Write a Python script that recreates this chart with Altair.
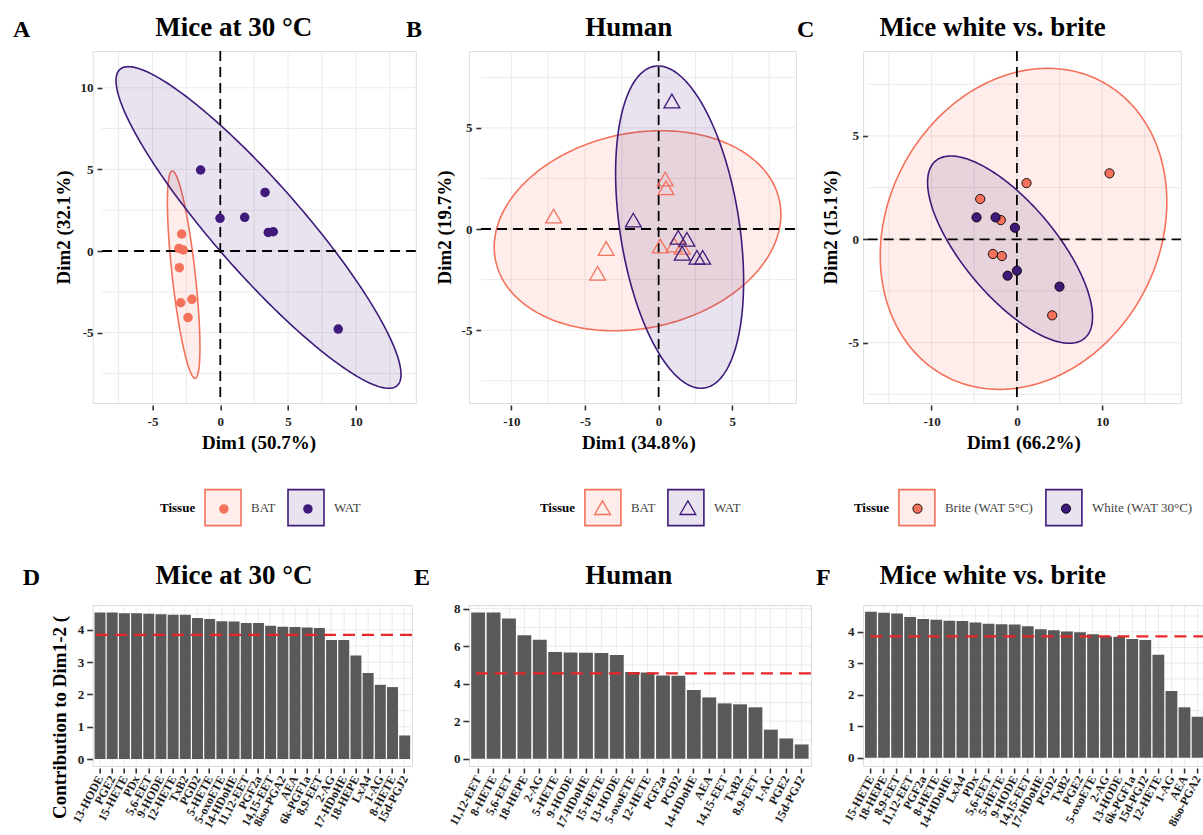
import altair as alt
import numpy as np
import pandas as pd

FONT = "Liberation Serif"
SALMON = "#F4725C"
PURPLE = "#3F1A7A"
SALMON_TINT = "rgba(244,114,92,0.13)"
PURPLE_TINT = "rgba(63,26,122,0.12)"
GRID = "#EBEBEB"
BAR = "#595959"
RED = "#E8262A"

# ---------------- Panel A : Mice at 30 °C (PCA scores) ----------------
A_GROUPS = ["BAT", "WAT"]
A_BAT_X = [-2.85, -3.05, -2.73, -3.02, -2.92, -2.09, -2.38]
A_BAT_Y = [1.04, 0.16, 0.06, -1.02, -3.17, -2.96, -4.08]
A_WAT_X = [-1.45, 3.30, -0.02, 1.80, 3.54, 3.91, 8.70]
A_WAT_Y = [4.96, 3.59, 2.00, 2.06, 1.14, 1.18, -4.78]
# ellipse outlines: xmin, xmax, ymin, ymax, x at the top point
A_ELL_BAT = [-3.90, -1.50, -7.80, 4.90, -3.54]
A_ELL_WAT = [-7.69, 13.33, -8.41, 11.29, -6.78]

# ---------------- Panel B : Human ----------------
B_GROUPS = ["BAT", "WAT"]
B_BAT_X = [-7.13, -3.56, -4.14, 0.45, 0.50, 0.11, 1.06, 1.60]
B_BAT_Y = [0.64, -0.96, -2.19, 2.47, 2.04, -0.84, -0.79, -0.90]
B_WAT_X = [0.90, -1.72, 1.33, 1.92, 1.60, 2.60, 2.99]
B_WAT_Y = [6.33, 0.44, -0.41, -0.51, -1.20, -1.40, -1.40]
B_ELL_BAT = [-11.16, 8.30, -5.03, 4.86, 0.16]
B_ELL_WAT = [-2.92, 5.77, -7.87, 8.06, -0.03]

# ---------------- Panel C : Mice white vs. brite ----------------
C_GROUPS = ["Brite (WAT 5°C)", "White (WAT 30°C)"]
C_BRITE_X = [10.86, 1.13, -4.30, -1.88, -2.81, -1.76, 4.14]
C_BRITE_Y = [3.19, 2.72, 1.95, 0.93, -0.71, -0.81, -3.68]
C_WHITE_X = [-4.73, -2.50, -0.23, 0.00, -1.09, 5.00]
C_WHITE_Y = [1.06, 1.06, 0.56, -1.52, -1.76, -2.29]
C_ELL_BRITE = [-16.02, 17.58, -7.26, 8.27, 3.60]
C_ELL_WHITE = [-10.47, 8.87, -5.03, 4.03, -7.74]

# ---------------- Panel D : contributions, mice at 30 °C ----------------
D_NAMES = ["13-HODE", "PGE2", "15-HETE", "PDx", "5,6-EET", "9-HODE", "12-HETE", "TxB2",
           "PGD2", "5-HETE", "5-oxoETE", "14-HDoHE", "11,12-EET", "PGF2a", "14,15-EET",
           "8iso-PGA2", "AEA", "6k-PGF1a", "8,9-EET", "2-AG", "17-HDoHE", "18-HEPE",
           "LxA4", "1-AG", "8-HETE", "15d-PGJ2"]
D_VALUES = [4.54, 4.54, 4.52, 4.52, 4.50, 4.49, 4.47, 4.47, 4.37, 4.34, 4.27, 4.26, 4.22,
            4.22, 4.13, 4.10, 4.09, 4.08, 4.06, 3.69, 3.69, 3.21, 2.67, 2.30, 2.23, 0.73]
D_REF = 3.85

# ---------------- Panel E : contributions, human ----------------
E_NAMES = ["11,12-EET", "8-HETE", "5,6-EET", "18-HEPE", "2-AG", "5-HETE", "9-HODE",
           "17-HDoHE", "15-HETE", "13-HODE", "5-oxoETE", "12-HETE", "PGF2a", "PGD2",
           "14-HDoHE", "AEA", "14,15-EET", "TxB2", "8,9-EET", "1-AG", "PGE2", "15d-PGJ2"]
E_VALUES = [7.80, 7.80, 7.48, 6.58, 6.35, 5.69, 5.67, 5.65, 5.64, 5.53, 4.62, 4.60, 4.44,
            4.43, 3.66, 3.27, 2.95, 2.90, 2.74, 1.55, 1.08, 0.76]
E_REF = 4.55

# ---------------- Panel F : contributions, mice white vs. brite ----------------
F_NAMES = ["15-HETE", "18-HEPE", "8,9-EET", "11,12-EET", "PGF2a", "8-HETE", "14-HDoHE",
           "LxA4", "PDx", "5,6-EET", "5-HETE", "9-HODE", "14,15-EET", "17-HDoHE", "PGD2",
           "TxB2", "PGE2", "5-oxoETE", "2-AG", "13-HODE", "6k-PGF1a", "15d-PGJ2",
           "12-HETE", "1-AG", "AEA", "8iso-PGA2"]
F_VALUES = [4.63, 4.60, 4.58, 4.47, 4.40, 4.38, 4.35, 4.34, 4.29, 4.25, 4.24, 4.23, 4.17,
            4.08, 4.05, 4.01, 3.98, 3.92, 3.85, 3.84, 3.77, 3.74, 3.27, 2.12, 1.60, 1.30]
F_REF = 3.85


def ellipse_frame(name, box, n=180):
    xmin, xmax, ymin, ymax, xtop = box
    cx, rx = (xmin + xmax) / 2, (xmax - xmin) / 2
    cy, ry = (ymin + ymax) / 2, (ymax - ymin) / 2
    phi = np.arccos(np.clip((xtop - cx) / rx, -1, 1))
    t = np.linspace(0, np.pi, n)
    return pd.DataFrame({"Tissue": name, "x": cx + rx * np.cos(t),
                         "y": cy + ry * np.cos(t - phi), "y2": cy + ry * np.cos(t + phi)})


def points_frame(groups, xs_list, ys_list):
    frames = [pd.DataFrame({"Tissue": g, "x": xs, "y": ys})
              for g, xs, ys in zip(groups, xs_list, ys_list)]
    return pd.concat(frames, ignore_index=True)


def letter_layer(letter, lx, ly):
    return alt.Chart(pd.DataFrame({"t": [letter]})).mark_text(
        align="left", baseline="alphabetic", font=FONT, fontSize=24,
        fontWeight="bold", color="black").encode(
        text="t:N", x=alt.value(lx), y=alt.value(ly))


def panel_title(text, dx, dy):
    return alt.Title(text=text, font=FONT, fontSize=27, fontWeight="bold", color="black",
                     anchor="middle", frame="group", offset=0, dx=dx, dy=dy)


LEG_TITLE_W = 35.4 + 8   # width of the bold "Tissue" legend title plus its padding


def scatter_panel(pts, ells, groups, cfg):
    xs = alt.Scale(domain=cfg["xdom"], nice=False, zero=False)
    ys = alt.Scale(domain=cfg["ydom"], nice=False, zero=False)
    xmax = cfg["xdom"][1]
    common = dict(domain=False, grid=False, ticks=True, tickColor="#333333", tickWidth=1.6,
                  labelFont=FONT, labelFontSize=13, labelFontWeight="bold", labelColor="#1E1E1E",
                  labelExpr="'' + datum.value", titleFont=FONT, titleFontSize=19,
                  titleFontWeight="bold", titleColor="black")
    xaxis = alt.Axis(values=cfg["xticks"], title=cfg["xtitle"], tickSize=5, offset=2,
                     labelPadding=5, titlePadding=5, titleX=cfg["xtitle_x"], **common)
    yaxis = alt.Axis(values=cfg["yticks"], title=cfg["ytitle"], tickSize=5, offset=cfg["yoff"],
                     labelPadding=4, titlePadding=7, **common)
    gv = alt.Chart(pd.DataFrame({"v": cfg["gx"]})).mark_rule(color=GRID, strokeWidth=1).encode(
        x=alt.X("v:Q", scale=xs, axis=xaxis))
    gh = alt.Chart(pd.DataFrame({"v": cfg["gy"]})).mark_rule(color=GRID, strokeWidth=1).encode(
        y=alt.Y("v:Q", scale=ys, axis=yaxis),
        x=alt.X(datum=cfg["xleft"], scale=xs, axis=xaxis), x2=alt.X2(datum=xmax))
    leg1 = dict(orient="none", legendX=cfg["lx"], legendY=cfg["ly"], direction="horizontal",
                title="Tissue", titleOrient="left", titleFont=FONT, titleFontSize=13,
                titleFontWeight="bold", titleColor="black", titlePadding=8,
                titleAnchor="middle", titleBaseline="middle",
                symbolType="square", symbolSize=1296, symbolStrokeWidth=1.6,
                labelFont=FONT, labelFontSize=13, labelColor="#444444", labelOffset=9,
                columnPadding=8, padding=0)
    tints = [SALMON_TINT, PURPLE_TINT]
    el = alt.Chart(ells).mark_area(strokeWidth=1.6).encode(
        x=alt.X("x:Q", scale=xs, axis=xaxis),
        y=alt.Y("y:Q", scale=ys, axis=yaxis), y2="y2:Q",
        fill=alt.Fill("Tissue:N", scale=alt.Scale(range=tints), legend=alt.Legend(**leg1)),
        stroke=alt.Stroke("Tissue:N", scale=alt.Scale(range=[SALMON, PURPLE]), legend=alt.Legend(**leg1)))
    zv = alt.Chart(pd.DataFrame({"v": [0]})).mark_rule(
        color="black", strokeDash=[10, 6], strokeWidth=1.8).encode(x=alt.X("v:Q", scale=xs, axis=xaxis))
    zh = alt.Chart(pd.DataFrame({"v": [0]})).mark_rule(
        color="black", strokeDash=[10, 6], strokeWidth=1.8).encode(
        y=alt.Y("v:Q", scale=ys, axis=yaxis),
        x=alt.X(datum=cfg["xleft"], scale=xs, axis=xaxis), x2=alt.X2(datum=xmax))
    l2 = cfg["l2"]
    # second legend: only the point glyphs, drawn in the middle of the boxes of the first one
    leg2 = alt.Legend(orient="none", legendX=cfg["lx"] + LEG_TITLE_W + l2["d"],
                      legendY=cfg["ly"] + l2["d"], direction="horizontal", title=None,
                      symbolType=l2["shape"], symbolSize=l2["size"], symbolStrokeWidth=l2["sw"],
                      labelExpr="''", labelOffset=0, labelFontSize=13,
                      columnPadding=2 * l2["d"] + 9 + l2["lw"] + 8, padding=0,
                      **l2.get("extra", {}))
    pt = alt.Chart(pts).mark_point(**cfg["mark"]).encode(
        x=alt.X("x:Q", scale=xs, axis=xaxis),
        y=alt.Y("y:Q", scale=ys, axis=yaxis),
        color=alt.Color("Tissue:N", scale=alt.Scale(domain=groups, range=[SALMON, PURPLE]), legend=leg2))
    lt = letter_layer(cfg["letter"], cfg["letter_x"], cfg["letter_y"])
    return alt.layer(gv, gh, el, zv, zh, pt, lt).properties(
        width=cfg["w"], height=352, title=panel_title(cfg["title"], cfg["tdx"], cfg["tdy"]))


def bar_panel(names, values, ref, cfg):
    df = pd.DataFrame({"name": names, "value": values})
    xs = alt.Scale(paddingInner=0.1, paddingOuter=0.15)
    ys = alt.Scale(domain=cfg["ydom"], nice=False, zero=False)
    xaxis = alt.Axis(title=None, labelAngle=-62, labelAlign="right", labelBaseline="middle",
                     labelFont=FONT, labelFontSize=12, labelFontWeight="bold", labelColor="#1E1E1E",
                     labelPadding=3, labelOverlap=False, labelLimit=300, tickSize=5, tickWidth=1.6,
                     tickColor="#333333", domain=False, grid=True, gridColor=GRID, gridWidth=1,
                     bandPosition=0.5, offset=2)
    yargs = dict(values=cfg["yticks"], domain=False, grid=False, tickSize=6, tickWidth=1.6,
                 tickColor="#333333", labelFont=FONT, labelFontSize=13, labelFontWeight="bold",
                 labelColor="#1E1E1E", labelPadding=3)
    if cfg.get("ytitle"):
        yaxis = alt.Axis(title=cfg["ytitle"], titleFont=FONT, titleFontSize=19, titleFontWeight="bold",
                         titleColor="black", titlePadding=8, titleY=112, **yargs)
    else:
        yaxis = alt.Axis(title=None, **yargs)
    gh = alt.Chart(pd.DataFrame({"v": cfg["gy"]})).mark_rule(color=GRID, strokeWidth=1).encode(
        y=alt.Y("v:Q", scale=ys, axis=yaxis))
    bars = alt.Chart(df).mark_bar(color=BAR).encode(
        x=alt.X("name:N", sort=names, scale=xs, axis=xaxis),
        y=alt.Y("value:Q", scale=ys, axis=yaxis))
    rl = alt.Chart(pd.DataFrame({"v": [ref]})).mark_rule(
        color=RED, strokeDash=[12, 7], strokeWidth=2.3).encode(y=alt.Y("v:Q", scale=ys, axis=yaxis))
    lt = letter_layer(cfg["letter"], cfg["letter_x"], cfg["letter_y"])
    return alt.layer(gh, bars, rl, lt).properties(
        width=cfg["w"], height=161, title=panel_title(cfg["title"], cfg["tdx"], cfg["tdy"]))


TDY = 24

A = scatter_panel(
    points_frame(A_GROUPS, [A_BAT_X, A_WAT_X], [A_BAT_Y, A_WAT_Y]),
    pd.concat([ellipse_frame("BAT", A_ELL_BAT), ellipse_frame("WAT", A_ELL_WAT)]),
    A_GROUPS,
    dict(xdom=[-9.41, 14.42], ydom=[-9.31, 12.25], xleft=-8.72,
         gx=[-7.5, -5, -2.5, 0, 2.5, 5, 7.5, 10, 12.5], gy=[-7.5, -5, -2.5, 0, 2.5, 5, 7.5, 10],
         xticks=[-5, 0, 5, 10], yticks=[-5, 0, 5, 10], xtitle="Dim1 (50.7%)", ytitle="Dim2 (32.1%)",
         xtitle_x=165.8, yoff=-9.3, w=323.1, title="Mice at 30 °C", tdx=-20.5, tdy=TDY,
         letter="A", letter_x=-79.7, letter_y=-14.3, lx=67.3, ly=437.2,
         mark=dict(filled=True, shape="circle", size=90, opacity=1, strokeWidth=0),
         l2=dict(shape="circle", size=90, sw=0, d=14.0, lw=26.0)))

B = scatter_panel(
    points_frame(B_GROUPS, [B_BAT_X, B_WAT_X], [B_BAT_Y, B_WAT_Y]),
    pd.concat([ellipse_frame("BAT", B_ELL_BAT), ellipse_frame("WAT", B_ELL_WAT)]),
    B_GROUPS,
    dict(xdom=[-12.88, 9.32], ydom=[-8.60, 8.80], xleft=-12.06,
         gx=[-10, -7.5, -5, -2.5, 0, 2.5, 5, 7.5], gy=[-7.5, -5, -2.5, 0, 2.5, 5, 7.5],
         xticks=[-10, -5, 0, 5], yticks=[-5, 0, 5], xtitle="Dim1 (34.8%)", ytitle="Dim2 (19.7%)",
         xtitle_x=169.5, yoff=-12, w=327, title="Human", tdx=-3.7, tdy=TDY,
         letter="B", letter_x=-63, letter_y=-14.3, lx=71, ly=437.2,
         mark=dict(filled=False, shape="triangle-up", size=250, opacity=1, strokeWidth=1.3),
         l2=dict(shape="triangle-up", size=250, sw=1.3, d=10.2, lw=26.0)))

C = scatter_panel(
    points_frame(C_GROUPS, [C_BRITE_X, C_WHITE_X], [C_BRITE_Y, C_WHITE_Y]),
    pd.concat([ellipse_frame(C_GROUPS[0], C_ELL_BRITE), ellipse_frame(C_GROUPS[1], C_ELL_WHITE)]),
    C_GROUPS,
    dict(xdom=[-18.03, 19.23], ydom=[-7.92, 9.11], xleft=-17.50,
         gx=[-15, -10, -5, 0, 5, 10, 15], gy=[-7.5, -5, -2.5, 0, 2.5, 5, 7.5],
         xticks=[-10, 0, 10], yticks=[-5, 0, 5], xtitle="Dim1 (66.2%)", ytitle="Dim2 (15.1%)",
         xtitle_x=160.3, yoff=-4.5, w=317.8, title="Mice white vs. brite", tdx=-29.4, tdy=TDY,
         letter="C", letter_x=-66.2, letter_y=-14.3, lx=-9.2, ly=437.2,
         mark=dict(filled=True, shape="circle", size=85, opacity=1, stroke="black", strokeWidth=0.9),
         l2=dict(shape="circle", size=85, sw=0.9, d=13.7, lw=91.1,
                 extra=dict(symbolStrokeColor="black"))))

D = bar_panel(D_NAMES, D_VALUES, D_REF, dict(
    ydom=[-0.217, 4.775], gy=[0, 0.5, 1, 1.5, 2, 2.5, 3, 3.5, 4, 4.5], yticks=[0, 1, 2, 3, 4],
    ytitle="Contribution to Dim1-2 (", w=319.3, title="Mice at 30 °C", tdx=-18.4, tdy=TDY,
    letter="D", letter_x=-70, letter_y=-20))
E = bar_panel(E_NAMES, E_VALUES, E_REF, dict(
    ydom=[-0.389, 8.197], gy=[0, 1, 2, 3, 4, 5, 6, 7, 8], yticks=[0, 2, 4, 6, 8],
    w=342, title="Human", tdx=-11.2, tdy=TDY, letter="E", letter_x=-55, letter_y=-20))
F = bar_panel(F_NAMES, F_VALUES, F_REF, dict(
    ydom=[-0.263, 4.848], gy=[0, 0.5, 1, 1.5, 2, 2.5, 3, 3.5, 4, 4.5], yticks=[0, 1, 2, 3, 4],
    w=342.3, title="Mice white vs. brite", tdx=-41.6, tdy=TDY,
    letter="F", letter_x=-47.2, letter_y=-20))

chart = alt.concat(A, B, C, D, E, F, columns=3, spacing={"row": 202, "column": 52.2},
                   bounds="flush", align="each").resolve_scale(
    fill="independent", stroke="independent", color="independent",
    x="independent", y="independent").resolve_legend(
    fill="independent", stroke="independent", color="independent").properties(
    autosize=alt.AutoSizeParams(type="none"),
    padding={"left": 92.7, "top": 51, "right": 1110.3, "bottom": 784},
).configure_view(stroke=None).configure(background="white")

chart.save("out.html", embed_options={"renderer": "svg", "actions": False})
